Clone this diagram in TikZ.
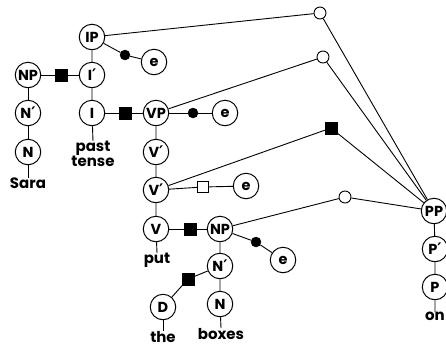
\documentclass[tikz,border=0pt]{standalone}
\usepackage{fontspec}
\setmainfont{Poppins}
\newfontfamily\primefont{DejaVu Sans}
\newcommand{\pr}{{\primefont\bfseries\fontsize{16}{16}\selectfont\char"2032}}
\begin{document}
\begin{tikzpicture}[x=1pt,y=-1pt,
  cat/.style={circle,draw,line width=1pt,minimum size=25.5pt,inner sep=0pt,font=\fontsize{14.5}{15}\selectfont\bfseries},
  bdot/.style={circle,fill=black,draw,minimum size=10pt,inner sep=0pt},
  odot/.style={circle,fill=white,draw,line width=0.9pt,minimum size=12pt,inner sep=0pt},
  bsq/.style={rectangle,fill=black,draw,minimum size=12pt,inner sep=0pt},
  osq/.style={rectangle,fill=white,draw,line width=0.9pt,minimum size=11pt,inner sep=0pt},
  word/.style={anchor=north,inner sep=0pt,font=\fontsize{15}{15}\selectfont\bfseries,align=center},
  ln/.style={line width=0.9pt}]
\useasboundingbox (0,0) rectangle (446,349);
% category nodes
\node[cat] (IP) at (92,37) {IP};
\node[cat] (eA) at (154,62) {e};
\node[cat] (NP) at (28,75) {NP};
\node[cat] (Ib) at (92,75) {I\pr};
\node[cat] (Nb1) at (28,113) {N\pr};
\node[cat] (I) at (92,113) {I};
\node[cat] (VP) at (156,113) {VP};
\node[cat] (eB) at (225,113) {e};
\node[cat] (N1) at (28,152) {N};
\node[cat] (Vb1) at (156,152) {V\pr};
\node[cat] (Vb2) at (156,190) {V\pr};
\node[cat] (eC) at (246,186) {e};
\node[cat] (V) at (156,229) {V};
\node[cat] (NP2) at (220,229) {NP};
\node[cat] (eD) at (283,260) {e};
\node[cat] (Nb2) at (220,266) {N\pr};
\node[cat] (D) at (163,307) {D};
\node[cat] (N2) at (220,304) {N};
\node[cat] (PP) at (434,211) {PP};
\node[cat] (Pb) at (435,249) {P\pr};
\node[cat] (P) at (435,287) {P};
% connector symbols
\node[bdot] (dA) at (125,55) {};
\node[bsq] (sA) at (61,75) {};
\node[bsq] (sB) at (125,113) {};
\node[bdot] (dB) at (193,113) {};
\node[osq] (oS) at (203,187) {};
\node[bsq] (sC) at (190,229) {};
\node[bdot] (dC) at (256,242) {};
\node[bsq] (sD) at (188,279) {};
\node[odot] (o1) at (320,13) {};
\node[odot] (o2) at (323,57) {};
\node[bsq] (sE) at (331,128) {};
\node[odot] (o3) at (345,197) {};
% words
\node[word] (wSara) at (28,178) {Sara};
\node[word] (wPast) at (93,141) {past\\tense};
\node[word] (wPut) at (157,253) {put};
\node[word] (wThe) at (163,331) {the};
\node[word] (wBoxes) at (221,328) {boxes};
\node[word] (wOn) at (435,312) {on};
% tree lines
\draw[ln] (IP) -- (Ib) -- (I) -- (wPast.north);
\draw[ln] (NP) -- (Nb1) -- (N1) -- (wSara.north);
\draw[ln] (VP) -- (Vb1) -- (Vb2) -- (V) -- (wPut.north);
\draw[ln] (NP2) -- (Nb2) -- (N2) -- (wBoxes.north);
\draw[ln] (D) -- (wThe.north);
\draw[ln] (PP) -- (Pb) -- (P) -- (wOn.north);
% links
\draw[ln] (IP) -- (dA) -- (eA);
\draw[ln] (NP) -- (sA) -- (Ib);
\draw[ln] (I) -- (sB) -- (VP);
\draw[ln] (VP) -- (dB) -- (eB);
\draw[ln] (Vb2) -- (oS) -- (eC);
\draw[ln] (V) -- (sC) -- (NP2);
\draw[ln] (NP2) -- (dC) -- (eD);
\draw[ln] (D) -- (sD) -- (Nb2);
\draw[ln] (IP) -- (o1) -- (PP);
\draw[ln] (VP) -- (o2) -- (PP);
\draw[ln] (Vb2) -- (sE) -- (PP);
\draw[ln] (NP2) -- (o3) -- (PP);
\end{tikzpicture}
\end{document}
